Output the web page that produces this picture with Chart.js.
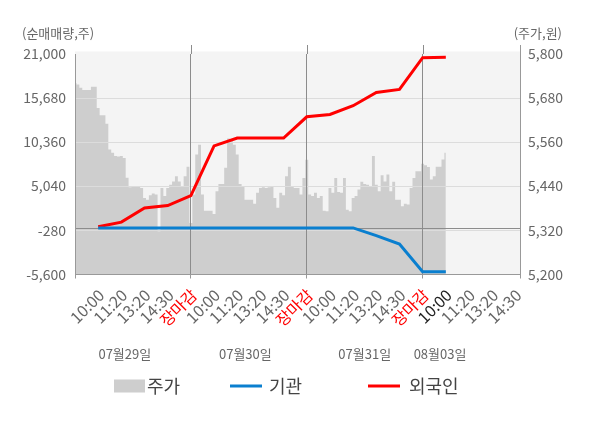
<!DOCTYPE html>
<html>
<head>
<meta charset="utf-8">
<script src="https://cdn.jsdelivr.net/npm/chart.js@4.4.1/dist/chart.umd.min.js"></script>
<style>
  html, body { margin: 0; padding: 0; background: #fff; }
  canvas { display: block; }
</style>
</head>
<body>
<canvas id="flowChart" width="600" height="428"></canvas>
<script>
// x axis: one slot per tick label, 5 slots per trading day
const slotLabels = ['', '10:00', '11:20', '13:20', '14:30', '장마감',
  '10:00', '11:20', '13:20', '14:30', '장마감',
  '10:00', '11:20', '13:20', '14:30', '장마감',
  '10:00', '11:20', '13:20', '14:30'];
const axisEnd = 19.2;
const dayBoundaries = [5, 10, 15];
const dayLabels = ['07월29일', '07월30일', '07월31일', '08월03일'];
const dayLabelSlots = [2.15, 7.35, 12.5, 15.75];

// net buying (shares), one value per slot starting at slot 1
const instNet = [0, 0, 0, 0, 0, 0, 0, 0, 0, 0, 0, 0, -930, -1950, -5300, -5300];
const foreignNet = [150, 700, 2400, 2700, 3900, 9900, 10850, 10850, 10850, 13420, 13700, 14750, 16350, 16730, 20550, 20600];

// price (won), sampled every 1/8 slot from slot 0
const priceStep = 0.125;
const priceValues = [
  5721, 5717, 5708, 5702, 5702, 5702, 5711, 5711,
  5653, 5633, 5633, 5610, 5540, 5531, 5522, 5521,
  5522, 5517, 5463, 5437, 5440, 5440, 5440, 5435,
  5408, 5403, 5415, 5420, 5417, 5317, 5435, 5413,
  5435, 5444, 5453, 5467, 5453, 5440, 5467, 5493,
  5340, 5417, 5526, 5553, 5417, 5373, 5373, 5373,
  5364, 5426, 5446, 5446, 5490, 5570, 5567, 5553,
  5526, 5446, 5440, 5403, 5403, 5403, 5392, 5422,
  5435, 5437, 5435, 5437, 5439, 5408, 5381, 5422,
  5415, 5467, 5493, 5440, 5435, 5435, 5417, 5462,
  5512, 5417, 5413, 5422, 5408, 5413, 5373, 5372,
  5435, 5422, 5462, 5424, 5422, 5462, 5376, 5372,
  5408, 5413, 5431, 5452, 5446, 5444, 5440, 5522,
  5444, 5426, 5470, 5453, 5472, 5426, 5452, 5403,
  5403, 5385, 5392, 5390, 5435, 5462, 5481, 5481,
  5501, 5497, 5492, 5458, 5467, 5493, 5493, 5513, 5531
];

const leftTicks = [-5600, -280, 5040, 10360, 15680, 21000];
const rightTicks = [5200, 5320, 5440, 5560, 5680, 5800];

const GRAY = '#cecece';
const BLUE = '#0a7fcf';
const RED = '#ff0000';

Chart.defaults.font.family = "'Noto Sans CJK KR', 'Noto Sans', sans-serif";

const pricePoints = priceValues.map((v, i) => ({ x: i * priceStep, y: v }));
const instPoints = instNet.map((v, i) => ({ x: i + 1, y: v }));
const foreignPoints = foreignNet.map((v, i) => ({ x: i + 1, y: v }));

const isBoundary = v => dayBoundaries.includes(v);

const plotDecor = {
  id: 'plotDecor',
  beforeDraw(chart) {
    const { ctx, chartArea: a } = chart;
    ctx.save();
    ctx.fillStyle = '#f4f4f4';
    ctx.fillRect(a.left, a.top - 2.5, a.right - a.left, a.bottom - a.top + 2.5);
    ctx.restore();
  },
  beforeDatasetDraw(chart, args) {
    // grid and zero line sit on top of the price area, under the two lines
    if (args.index !== 2) return;
    const { ctx, chartArea: a, scales } = chart;
    scales.y.drawGrid(a);
    scales.x.drawGrid(a);
    const y0 = Math.round(scales.y.getPixelForValue(0)) + 0.5;
    ctx.save();
    ctx.strokeStyle = '#8c8c8c';
    ctx.lineWidth = 1;
    ctx.beginPath();
    ctx.moveTo(a.left, y0);
    ctx.lineTo(a.right, y0);
    ctx.stroke();
    ctx.restore();
  },
  afterDraw(chart) {
    const { ctx, chartArea: a, scales } = chart;
    ctx.save();
    // vertical lines run a little above the plot
    ctx.strokeStyle = '#8c8c8c';
    ctx.lineWidth = 1;
    dayBoundaries.forEach(v => {
      const x = Math.round(scales.x.getPixelForValue(v)) + 0.5;
      ctx.beginPath();
      ctx.moveTo(x, a.top - 9);
      ctx.lineTo(x, a.top);
      ctx.stroke();
    });
    ctx.strokeStyle = '#999';
    ctx.beginPath();
    ctx.moveTo(Math.round(a.right) + 0.5, a.top - 9);
    ctx.lineTo(Math.round(a.right) + 0.5, a.top);
    ctx.stroke();

    // axis titles
    ctx.fillStyle = '#666';
    ctx.font = "13px 'Noto Sans CJK KR', 'Noto Sans', sans-serif";
    ctx.textBaseline = 'middle';
    ctx.textAlign = 'left';
    ctx.fillText('(순매매량,주)', 22, 33);
    ctx.textAlign = 'right';
    ctx.fillText('(주가,원)', 562, 33);

    // day labels
    ctx.textAlign = 'center';
    dayLabels.forEach((t, i) => {
      ctx.fillText(t, scales.x.getPixelForValue(dayLabelSlots[i]), 354);
    });

    // legend
    const legendSwatchX = [114, 230, 368];
    const legendTextX = [147, 269, 409];
    const legendY = 386;
    ctx.font = "18px 'Noto Sans CJK KR', 'Noto Sans', sans-serif";
    ctx.textAlign = 'left';
    chart.data.datasets.forEach((ds, i) => {
      if (i === 0) {
        ctx.fillStyle = ds.backgroundColor;
        ctx.fillRect(legendSwatchX[i], legendY - 6.5, 31, 13);
      } else {
        ctx.strokeStyle = ds.borderColor;
        ctx.lineWidth = 3;
        ctx.beginPath();
        ctx.moveTo(legendSwatchX[i], legendY);
        ctx.lineTo(legendSwatchX[i] + 32, legendY);
        ctx.stroke();
      }
      ctx.fillStyle = '#444';
      ctx.fillText(ds.label, legendTextX[i], legendY);
    });
    ctx.restore();
  }
};

new Chart(document.getElementById('flowChart'), {
  type: 'line',
  data: {
    datasets: [
      {
        label: '주가',
        data: pricePoints,
        yAxisID: 'y1',
        stepped: 'middle',
        fill: 'start',
        backgroundColor: GRAY,
        borderColor: 'transparent',
        borderWidth: 0,
        pointRadius: 0,
        order: 3
      },
      {
        label: '기관',
        data: instPoints,
        yAxisID: 'y',
        borderColor: BLUE,
        borderWidth: 3,
        pointRadius: 0,
        tension: 0,
        order: 1
      },
      {
        label: '외국인',
        data: foreignPoints,
        yAxisID: 'y',
        borderColor: RED,
        borderWidth: 3,
        pointRadius: 0,
        tension: 0,
        order: 2
      }
    ]
  },
  options: {
    responsive: false,
    animation: false,
    events: [],
    layout: { padding: { top: 54, bottom: 0, left: 0, right: 0 } },
    plugins: {
      legend: { display: false },
      tooltip: { enabled: false }
    },
    scales: {
      x: {
        type: 'linear',
        min: 0,
        max: axisEnd,
        afterBuildTicks: s => {
          s.ticks = slotLabels.map((_, i) => ({ value: i })).concat([{ value: axisEnd }]);
        },
        afterFit: s => { s.height = 428 - 274.3; },
        ticks: {
          autoSkip: false,
          minRotation: 45,
          maxRotation: 45,
          padding: 7,
          labelOffset: 3,
          font: { size: 16 },
          callback: (v, i) => slotLabels[i] || '',
          color: c => {
            const t = slotLabels[c.index];
            if (t === '장마감') return RED;
            if (c.index === 16) return '#222';
            return '#666';
          }
        },
        grid: {
          drawTicks: true,
          tickLength: 4,
          color: c => (c.tick && isBoundary(c.tick.value)) ? '#8c8c8c' : 'transparent',
          tickColor: c => {
            const v = c.tick ? c.tick.value : -1;
            return (v === 0 || v === axisEnd || isBoundary(v)) ? '#999' : 'transparent';
          }
        },
        border: { color: '#999', z: 1 }
      },
      y: {
        position: 'left',
        min: -5600,
        max: 21000,
        afterBuildTicks: s => { s.ticks = leftTicks.map(v => ({ value: v })); },
        afterFit: s => { s.width = 75; },
        ticks: {
          color: '#666',
          font: { size: 14 },
          padding: 9,
          callback: v => v.toLocaleString('en-US')
        },
        grid: {
          drawTicks: false,
          color: c => (c.tick && c.tick.value === 21000) ? 'transparent' : '#dcdcdc'
        },
        border: { color: '#999', z: 1 }
      },
      y1: {
        position: 'right',
        min: 5200,
        max: 5800,
        afterBuildTicks: s => { s.ticks = rightTicks.map(v => ({ value: v })); },
        afterFit: s => { s.width = 80; },
        ticks: {
          color: '#666',
          font: { size: 14 },
          padding: 8,
          callback: v => v.toLocaleString('en-US')
        },
        grid: { display: false, drawTicks: false },
        border: { color: '#999', z: 1 }
      }
    }
  },
  plugins: [plotDecor]
});
</script>
</body>
</html>
